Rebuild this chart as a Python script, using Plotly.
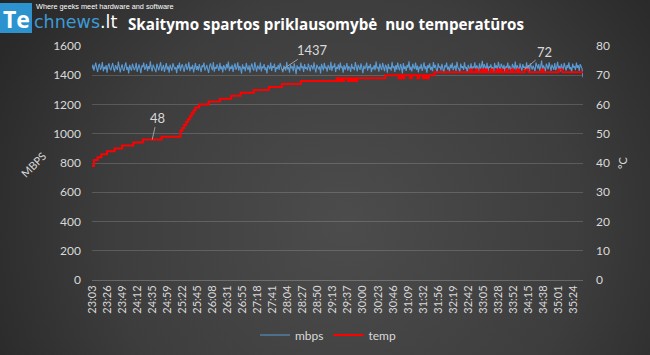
import base64
import plotly.graph_objects as go

# ---------------- data ----------------
tick_labels = ["23:03", "23:26", "23:49", "24:12", "24:35", "24:59", "25:22", "25:45",
               "26:08", "26:31", "26:55", "27:18", "27:41", "28:04", "28:27", "28:50",
               "29:13", "29:37", "30:00", "30:23", "30:46", "31:09", "31:32", "31:56",
               "32:19", "32:42", "33:05", "33:28", "33:52", "34:15", "34:38", "35:01",
               "35:24"]
samples_per_label = 16      # mbps samples between two tick labels
temp_step = 2               # temp is read at every 2nd sample

mbps = [
    1445, 1472, 1431, 1460, 1486, 1449, 1422, 1465, 1478, 1438, 1452, 1490, 1427, 1458, 1441, 1470, 1418, 1463, 1481, 1447,
    1434, 1461, 1484, 1444, 1425, 1469, 1453, 1436, 1493, 1462, 1420, 1450, 1475, 1440, 1429, 1466, 1488, 1437, 1457, 1412,
    1471, 1448, 1432, 1480, 1459, 1435, 1451, 1485, 1424, 1460, 1474, 1443, 1415, 1467, 1455, 1487, 1438, 1449, 1477, 1428,
    1463, 1442, 1495, 1452, 1426, 1473, 1458, 1440, 1421, 1479, 1454, 1433, 1464, 1489, 1430, 1448, 1470, 1423, 1456, 1483,
    1439, 1460, 1417, 1472, 1450, 1431, 1482, 1462, 1441, 1455, 1414, 1469, 1446, 1486, 1429, 1458, 1475, 1448, 1424, 1464,
    1478, 1436, 1453, 1491, 1428, 1459, 1442, 1471, 1419, 1451, 1484, 1437, 1462, 1432, 1476, 1449, 1422, 1468, 1455, 1487,
    1433, 1447, 1470, 1440, 1416, 1464, 1481, 1452, 1435, 1490, 1425, 1457, 1444, 1474, 1454, 1430, 1485, 1441, 1461, 1420,
    1469, 1455, 1434, 1477, 1448, 1494, 1429, 1459, 1443, 1472, 1423, 1456, 1482, 1438, 1452, 1488, 1431, 1463, 1447, 1411,
    1475, 1444, 1458, 1427, 1484, 1453, 1436, 1468, 1418, 1461, 1480, 1445, 1432, 1489, 1450, 1424, 1466, 1456, 1439, 1486,
    1426, 1459, 1448, 1476, 1435, 1454, 1413, 1470, 1457, 1441, 1487, 1430, 1463, 1451, 1479, 1422, 1455, 1443, 1471, 1437,
    1484, 1446, 1437, 1421, 1466, 1450, 1432, 1491, 1440, 1456, 1417, 1473, 1447, 1460, 1428, 1482, 1453, 1408, 1468, 1442,
    1458, 1431, 1486, 1448, 1462, 1423, 1477, 1444, 1455, 1434, 1480, 1451, 1426, 1469, 1459, 1439, 1489, 1446, 1419, 1472,
    1450, 1440, 1461, 1412, 1478, 1453, 1433, 1485, 1447, 1458, 1424, 1470, 1451, 1436, 1492, 1429, 1463, 1453, 1481, 1422,
    1457, 1444, 1474, 1435, 1487, 1449, 1460, 1418, 1469, 1438, 1453, 1483, 1431, 1462, 1452, 1423, 1478, 1446, 1456, 1434,
    1490, 1450, 1427, 1471, 1459, 1437, 1482, 1452, 1415, 1466, 1443, 1455, 1486, 1432, 1463, 1448, 1477, 1421, 1453, 1441,
    1470, 1434, 1493, 1446, 1457, 1425, 1480, 1453, 1436, 1485, 1450, 1428, 1472, 1459, 1417, 1478, 1444, 1455, 1431, 1491,
    1449, 1462, 1423, 1469, 1438, 1487, 1452, 1433, 1477, 1456, 1413, 1483, 1442, 1460, 1429, 1471, 1451, 1496, 1435, 1458,
    1426, 1479, 1453, 1444, 1486, 1437, 1466, 1420, 1459, 1446, 1478, 1430, 1454, 1488, 1441, 1463, 1418, 1470, 1449, 1482,
    1436, 1457, 1428, 1490, 1450, 1471, 1442, 1424, 1481, 1452, 1460, 1433, 1478, 1447, 1414, 1468, 1454, 1487, 1438, 1459,
    1425, 1473, 1449, 1485, 1435, 1455, 1467, 1430, 1492, 1453, 1444, 1421, 1480, 1450, 1462, 1436, 1488, 1446, 1457, 1416,
    1471, 1452, 1438, 1482, 1429, 1460, 1449, 1489, 1433, 1467, 1455, 1424, 1481, 1445, 1459, 1499, 1432, 1476, 1451, 1439,
    1485, 1427, 1461, 1452, 1474, 1442, 1456, 1419, 1484, 1450, 1467, 1435, 1491, 1453, 1429, 1479, 1458, 1443, 1471, 1422,
    1461, 1451, 1487, 1437, 1466, 1447, 1425, 1478, 1455, 1441, 1494, 1433, 1469, 1452, 1420, 1482, 1454, 1431, 1476, 1450,
    1459, 1435, 1489, 1443, 1470, 1418, 1481, 1453, 1438, 1465, 1451, 1428, 1486, 1457, 1446, 1477, 1432, 1461, 1500, 1437,
    1467, 1450, 1424, 1480, 1454, 1441, 1488, 1452, 1430, 1473, 1458, 1437, 1483, 1434, 1455, 1492, 1444, 1464, 1427, 1478,
    1452, 1438, 1485, 1461, 1431, 1470, 1449, 1489, 1440, 1456, 1421, 1480, 1453, 1462, 1435, 1486, 1451, 1468, 1429, 1476,
    1454, 1444, 1385,
]

temp = [
    39, 41, 41, 42, 42, 43, 43, 43, 44, 44, 44, 44, 45, 45, 45, 45, 46, 46, 46, 46,
    46, 46, 47, 47, 47, 47, 47, 48, 48, 48, 48, 48, 48, 48, 48, 48, 48, 49, 49, 49,
    49, 49, 49, 49, 49, 49, 49, 51, 52, 53, 54, 55, 56, 57, 58, 59, 59, 60, 60, 60,
    60, 60, 61, 61, 61, 61, 61, 61, 62, 62, 62, 62, 62, 62, 63, 63, 63, 63, 63, 64,
    64, 64, 64, 64, 64, 64, 65, 65, 65, 65, 65, 65, 65, 65, 66, 66, 66, 66, 66, 66,
    66, 67, 67, 67, 67, 67, 67, 67, 67, 67, 67, 68, 68, 68, 68, 68, 68, 68, 68, 68,
    68, 68, 68, 68, 68, 68, 68, 68, 68, 68, 69, 68, 69, 68, 69, 69, 68, 69, 68, 69,
    68, 69, 69, 69, 69, 69, 69, 69, 69, 69, 69, 69, 69, 69, 69, 69, 70, 70, 70, 70,
    70, 70, 70, 69, 70, 69, 70, 70, 70, 69, 70, 70, 70, 69, 70, 70, 69, 70, 69, 70,
    70, 70, 71, 71, 71, 71, 71, 71, 71, 71, 71, 71, 71, 71, 71, 71, 71, 71, 71, 71,
    71, 72, 71, 71, 72, 71, 71, 72, 71, 72, 71, 71, 72, 71, 71, 72, 71, 72, 71, 71,
    72, 71, 71, 72, 71, 71, 72, 71, 71, 71, 72, 72, 71, 71, 71, 71, 71, 71, 71, 72,
    71, 71, 71, 71, 71, 71, 71, 71, 72, 72, 71, 71, 71, 71, 71, 71, 71, 71, 71, 71,
    71, 71,
]

# labelled points
label_48_idx = 32       # index into temp
label_1437_idx = 202    # index into mbps
label_72_idx = 230      # index into temp

# ---------------- layout geometry ----------------
W, H = 650, 355
ML, MR, MT, MB = 92, 67, 46, 75
PW, PH = W - ML - MR, H - MT - MB


def px(x):
    return (x - ML) / PW


def py(y):
    return (H - MB - y) / PH


xs = list(range(len(mbps)))
xs_temp = [i * temp_step for i in range(len(temp))]
tickvals = [i * samples_per_label for i in range(len(tick_labels))]

FONT = "Lato"
TXT = "#d9d9d9"
GRID = "rgba(255,255,255,0.16)"

fig = go.Figure()
fig.add_trace(go.Scatter(x=xs, y=mbps, name="mbps", mode="lines",
                         line=dict(color="#5b9bd5", width=1.1)))
fig.add_trace(go.Scatter(x=xs_temp, y=temp, name="temp", mode="lines", yaxis="y2",
                         line=dict(color="#ff0000", width=2, shape="hv")))

# background gradient
svg = f'''<svg xmlns="http://www.w3.org/2000/svg" width="{W}" height="{H}">
<defs><radialGradient id="g" gradientUnits="userSpaceOnUse" cx="345" cy="225" r="430">
<stop offset="0" stop-color="#4c4c4c"/><stop offset="0.55" stop-color="#3d3d3d"/>
<stop offset="1" stop-color="#232323"/></radialGradient></defs>
<rect width="{W}" height="{H}" fill="url(#g)"/></svg>'''
src = "data:image/svg+xml;base64," + base64.b64encode(svg.encode()).decode()

fig.update_layout(
    width=W, height=H,
    margin=dict(l=ML, r=MR, t=MT, b=MB, pad=0, autoexpand=False),
    paper_bgcolor="#3a3a3a",
    plot_bgcolor="rgba(0,0,0,0)",
    font=dict(family=FONT, color=TXT, size=11),
    images=[dict(source=src, xref="paper", yref="paper", x=px(0), y=py(0),
                 sizex=W / PW, sizey=H / PH, xanchor="left", yanchor="top",
                 sizing="stretch", layer="below")],
    xaxis=dict(range=[0, len(mbps) - 1], tickvals=tickvals, ticktext=tick_labels,
               tickangle=-90, tickfont=dict(size=11, color=TXT), showgrid=False,
               showline=True, linecolor="rgba(255,255,255,0.22)", ticks="",
               zeroline=False, automargin=False),
    yaxis=dict(range=[0, 1600], dtick=200, tickfont=dict(size=12, color=TXT),
               gridcolor=GRID, zeroline=False, showline=False, ticks="",
               ticklabelstandoff=10, automargin=False),
    yaxis2=dict(range=[0, 80], dtick=10, overlaying="y", side="right",
                tickfont=dict(size=12, color=TXT), showgrid=False, zeroline=False,
                showline=False, ticks="", ticklabelstandoff=12, automargin=False),
    legend=dict(orientation="h", x=px(328), xanchor="center",
                y=py(335), yanchor="middle",
                font=dict(size=12, color=TXT), bgcolor="rgba(0,0,0,0)",
                itemwidth=30),
    showlegend=True,
)

ann = []
# data labels
ann.append(dict(x=xs_temp[label_48_idx], y=temp[label_48_idx], xref="x", yref="y2",
                text=str(temp[label_48_idx]), showarrow=True, arrowhead=0, arrowwidth=1,
                arrowcolor="#a0a0a0", ax=5, ay=-22, font=dict(size=13, color=TXT), standoff=0))
ann.append(dict(x=xs[label_1437_idx], y=mbps[label_1437_idx], xref="x", yref="y",
                text=str(mbps[label_1437_idx]), showarrow=True, arrowhead=0, arrowwidth=1,
                arrowcolor="#a0a0a0", ax=30, ay=-20, font=dict(size=13, color=TXT), standoff=0))
ann.append(dict(x=xs_temp[label_72_idx], y=temp[label_72_idx], xref="x", yref="y2",
                text=str(temp[label_72_idx]), showarrow=True, arrowhead=0, arrowwidth=1,
                arrowcolor="#a0a0a0", ax=20, ay=-17, font=dict(size=13, color=TXT), standoff=0))


def txt(x, y, text, size, color=TXT, family=FONT, angle=0, xanchor="center"):
    return dict(x=px(x), y=py(y), xref="paper", yref="paper", text=text,
                showarrow=False, textangle=angle, xanchor=xanchor, yanchor="middle",
                font=dict(size=size, color=color, family=family))


# axis titles
ann.append(txt(33, 164, "MBPS", 11, angle=-45))
ann.append(txt(622, 163, "°C", 11, angle=-90))
# title
ann.append(txt(326, 24, "<b>Skaitymo spartos priklausomybė  nuo temperatūros</b>", 15.2,
               color="#ffffff", family="Open Sans"))
# logo
ann.append(txt(16, 19, "<b>Te</b>", 23, color="#ffffff", family="Open Sans"))
ann.append(txt(32, 22, "<span style='color:#3d9ad6'>chnews</span>.lt", 17.5,
               color="#ffffff", family="DejaVu Sans", xanchor="left"))
ann.append(txt(34, 7, "Where geeks meet hardware and software", 7.3, color="#ffffff",
               family="Liberation Sans Narrow, Liberation Sans", xanchor="left"))
fig.update_layout(annotations=ann)

fig.add_shape(type="rect", xref="paper", yref="paper", x0=px(0), x1=px(32),
              y0=py(3), y1=py(33), fillcolor="#2d93cf", line=dict(width=0), layer="below")

fig.write_html("out.html", config={"displayModeBar": False},
               post_script="document.body.style.margin='0';")
